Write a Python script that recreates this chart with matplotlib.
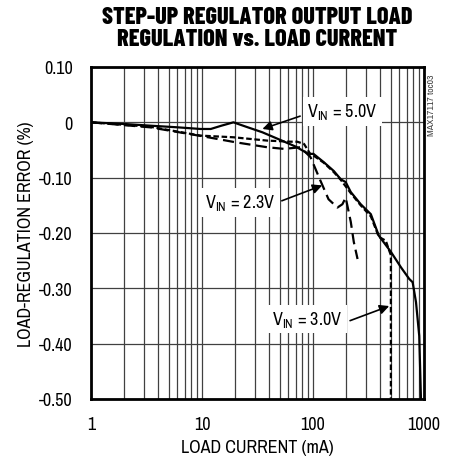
import matplotlib
matplotlib.use("Agg")
import matplotlib.pyplot as plt
from matplotlib import ticker

# load current (mA) / load-regulation error (%)
i_50 = [1, 2, 3.4, 6, 9.7, 12, 15, 19.2, 25, 35, 51, 70, 91, 101, 125, 154,
        178, 197, 219, 269, 332, 392, 503, 620, 736, 790, 847, 906, 939]
e_50 = [0, -0.003, -0.006, -0.009, -0.012, -0.012, -0.006, 0.0, -0.008, -0.018,
        -0.032, -0.044, -0.057, -0.057, -0.072, -0.088, -0.103, -0.108, -0.126,
        -0.148, -0.166, -0.205, -0.234, -0.262, -0.283, -0.289, -0.325, -0.386, -0.5]

i_23 = [1, 3.4, 10, 20, 38.6, 55, 77, 95, 117, 138, 166, 184, 197, 219, 233, 252]
e_23 = [0, -0.009, -0.025, -0.036, -0.045, -0.048, -0.045, -0.063, -0.106,
        -0.139, -0.154, -0.148, -0.136, -0.18, -0.216, -0.247]

i_30 = [1, 3.4, 9.7, 19.2, 38.6, 63, 72, 83, 95, 101, 125, 154, 178, 219, 269,
        332, 392, 453, 480, 503, 503]
e_30 = [0, -0.008, -0.024, -0.027, -0.033, -0.035, -0.035, -0.039, -0.058, -0.06,
        -0.073, -0.09, -0.104, -0.128, -0.15, -0.17, -0.207, -0.214, -0.229, -0.24, -0.5]

y_ticks = [0.10, 0, -0.10, -0.20, -0.30, -0.40, -0.50]
y_labels = ["0.10", "0", "-0.10", "-0.20", "-0.30", "-0.40", "-0.50"]
x_ticks = [1, 10, 100, 1000]
x_labels = ["1", "10", "100", "1000"]

narrow = ["Archivo Narrow", "Roboto Condensed", "DejaVu Sans"]
title_font = ["Barlow Condensed", "Asap Condensed", "DejaVu Sans"]
plt.rcParams["font.family"] = narrow
plt.rcParams["mathtext.fontset"] = "custom"
plt.rcParams["mathtext.rm"] = "Archivo Narrow"

fig = plt.figure(figsize=(4.5, 4.64), dpi=100)
ax = fig.add_axes([91 / 450, 64 / 464, 333 / 450, 332 / 464])

ax.plot(i_50, e_50, color="black", lw=1.6, zorder=5)
ax.plot(i_23, e_23, color="black", lw=1.6, dashes=(5, 2.5), zorder=5)
ax.plot(i_30, e_30, color="black", lw=1.6, dashes=(2.5, 1.2), zorder=5)

ax.set_xscale("log")
ax.set_xlim(1, 1000)
ax.set_ylim(-0.5, 0.1)
ax.set_xticks(x_ticks)
ax.set_xticklabels(x_labels)
ax.set_yticks(y_ticks)
ax.set_yticklabels(y_labels)
ax.xaxis.set_minor_locator(ticker.LogLocator(base=10, subs=range(2, 10)))
ax.xaxis.set_minor_formatter(ticker.NullFormatter())
ax.tick_params(which="both", length=0, labelsize=13)
ax.tick_params(axis="x", pad=12)
ax.tick_params(axis="y", pad=13)
ax.grid(which="both", axis="x", color="0.25", lw=0.9)
ax.grid(which="major", axis="y", color="0.25", lw=0.9)
for s in ax.spines.values():
    s.set_linewidth(2)

ax.set_xlabel("LOAD CURRENT (mA)", fontsize=13, labelpad=5)
ax.set_ylabel("LOAD-REGULATION ERROR (%)", fontsize=13, labelpad=4)

fig.text(257 / 450, 1 - 29 / 464, "STEP-UP REGULATOR OUTPUT LOAD\nREGULATION vs. LOAD CURRENT",
         ha="center", va="center", fontsize=17.5, fontweight="heavy", family=title_font,
         linespacing=0.95)

fig.text(431 / 450, 1 - 105 / 464, "MAX17117 toc03", rotation=90,
         ha="center", va="center", fontsize=7, color="0.25")

box = dict(facecolor="white", edgecolor="none", pad=3)
arrow = dict(arrowstyle="-|>", color="black", lw=1.2, mutation_scale=14, shrinkA=0, shrinkB=0)

ax.text(0.755, 0.866, r"V$_{\mathrm{IN}}$ = 5.0V", transform=ax.transAxes,
        ha="center", va="center", fontsize=13, bbox=box, zorder=6)
ax.annotate("", xy=(35, -0.012), xytext=(0.628, 0.852), textcoords="axes fraction",
            arrowprops=arrow, zorder=7)

ax.text(0.449, 0.592, r"V$_{\mathrm{IN}}$ = 2.3V", transform=ax.transAxes,
        ha="center", va="center", fontsize=13, bbox=box, zorder=6)
ax.annotate("", xy=(121, -0.114), xytext=(0.573, 0.597), textcoords="axes fraction",
            arrowprops=arrow, zorder=7)

ax.text(0.650, 0.241, r"V$_{\mathrm{IN}}$ = 3.0V", transform=ax.transAxes,
        ha="center", va="center", fontsize=13, bbox=box, zorder=6)
ax.annotate("", xy=(486, -0.332), xytext=(0.778, 0.236), textcoords="axes fraction",
            arrowprops=arrow, zorder=7)

fig.savefig("out.png", dpi=100)
